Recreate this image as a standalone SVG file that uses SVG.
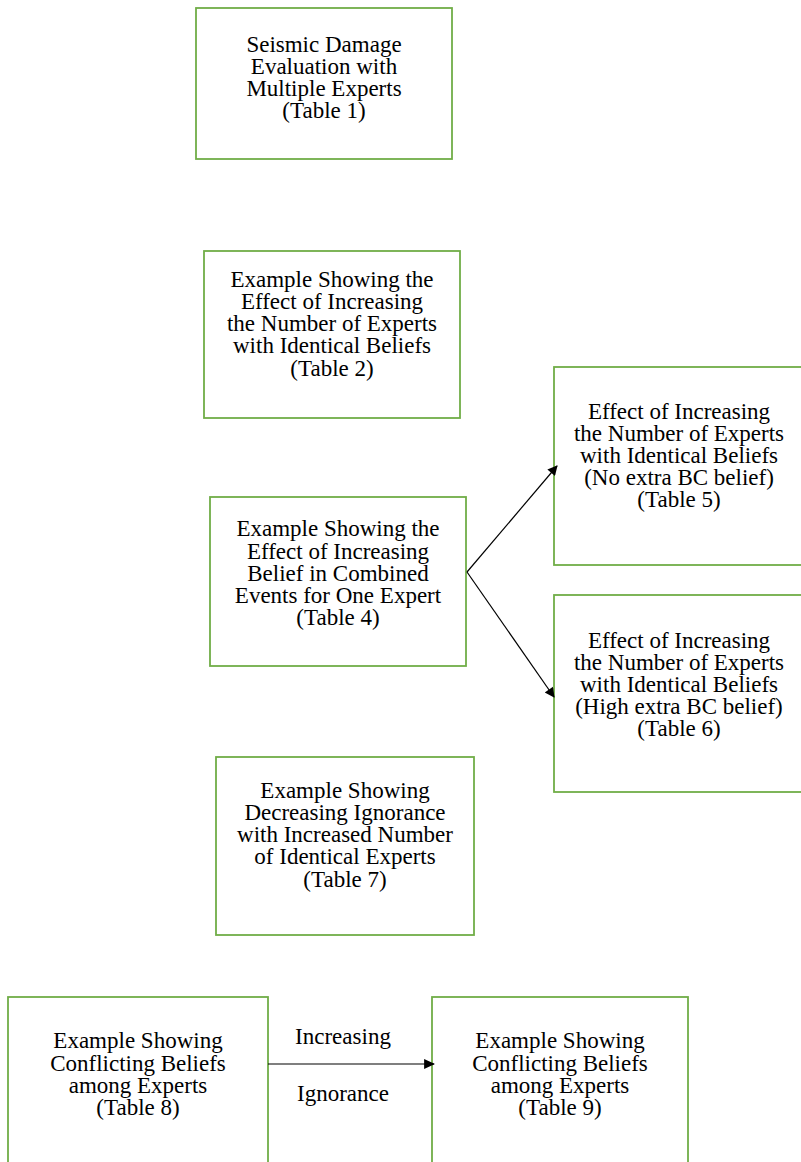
<svg xmlns="http://www.w3.org/2000/svg" width="801" height="1162" viewBox="0 0 801 1162">
<style>
.box{fill:#fff;stroke:#70ad47;stroke-width:1.8}
.t{font-family:"Liberation Serif","Times New Roman",serif;font-size:23px;fill:#000;text-anchor:middle}
.c{stroke:#000;stroke-width:1.2;fill:none}
</style>
<defs>
<marker id="ah" viewBox="0 0 10 10" refX="9" refY="5" markerWidth="12" markerHeight="10" markerUnits="userSpaceOnUse" orient="auto">
<path d="M0,0 L10,5 L0,10 z" fill="#000"/>
</marker>
<marker id="ah2" viewBox="0 0 10 10" refX="9" refY="5" markerWidth="11" markerHeight="11" orient="auto" markerUnits="userSpaceOnUse">
<path d="M0,0.5 L10,5 L0,9.5 z" fill="#000"/>
</marker>
</defs>
<rect width="801" height="1162" fill="#fff"/>
<g id="n1"><rect class="box" x="196" y="8" width="256" height="151"/>
<text class="t" x="324"><tspan x="324" y="52">Seismic Damage</tspan><tspan x="324" y="74">Evaluation with</tspan><tspan x="324" y="96">Multiple Experts</tspan><tspan x="324" y="118">(Table 1)</tspan></text></g>
<g id="n2"><rect class="box" x="204" y="251" width="256" height="167"/>
<text class="t"><tspan x="332" y="287">Example Showing the</tspan><tspan x="332" y="309">Effect of Increasing</tspan><tspan x="332" y="331">the Number of Experts</tspan><tspan x="332" y="353">with Identical Beliefs</tspan><tspan x="332" y="376">(Table 2)</tspan></text></g>
<g id="n4"><rect class="box" x="210" y="497" width="256" height="169"/>
<text class="t"><tspan x="338" y="536">Example Showing the</tspan><tspan x="338" y="559">Effect of Increasing</tspan><tspan x="338" y="581">Belief in Combined</tspan><tspan x="338" y="603">Events for One Expert</tspan><tspan x="338" y="625">(Table 4)</tspan></text></g>
<g id="n5"><rect class="box" x="554" y="367" width="250" height="198"/>
<text class="t"><tspan x="679" y="419">Effect of Increasing</tspan><tspan x="679" y="441">the Number of Experts</tspan><tspan x="679" y="463">with Identical Beliefs</tspan><tspan x="679" y="485">(No extra BC belief)</tspan><tspan x="679" y="507">(Table 5)</tspan></text></g>
<g id="n6"><rect class="box" x="554" y="595" width="250" height="197"/>
<text class="t"><tspan x="679" y="648">Effect of Increasing</tspan><tspan x="679" y="670">the Number of Experts</tspan><tspan x="679" y="692">with Identical Beliefs</tspan><tspan x="679" y="714">(High extra BC belief)</tspan><tspan x="679" y="736">(Table 6)</tspan></text></g>
<g id="n7"><rect class="box" x="216" y="757" width="258" height="178"/>
<text class="t"><tspan x="345" y="798">Example Showing</tspan><tspan x="345" y="820">Decreasing Ignorance</tspan><tspan x="345" y="842">with Increased Number</tspan><tspan x="345" y="864">of Identical Experts</tspan><tspan x="345" y="887">(Table 7)</tspan></text></g>
<g id="n8"><rect class="box" x="8" y="997" width="260" height="175"/>
<text class="t"><tspan x="138" y="1048">Example Showing</tspan><tspan x="138" y="1071">Conflicting Beliefs</tspan><tspan x="138" y="1093">among Experts</tspan><tspan x="138" y="1115">(Table 8)</tspan></text></g>
<g id="n9"><rect class="box" x="432" y="997" width="256" height="175"/>
<text class="t"><tspan x="560" y="1048">Example Showing</tspan><tspan x="560" y="1071">Conflicting Beliefs</tspan><tspan x="560" y="1093">among Experts</tspan><tspan x="560" y="1115">(Table 9)</tspan></text></g>
<g id="connectors">
<line class="c" x1="467" y1="572" x2="557" y2="466" marker-end="url(#ah)"/>
<line class="c" x1="467" y1="572" x2="554" y2="697" marker-end="url(#ah)"/>
<line class="c" x1="268" y1="1064" x2="434" y2="1064" stroke-width="2" marker-end="url(#ah2)"/>
<text class="t" x="343" y="1044">Increasing</text>
<text class="t" x="343" y="1101">Ignorance</text>
</g>
</svg>
